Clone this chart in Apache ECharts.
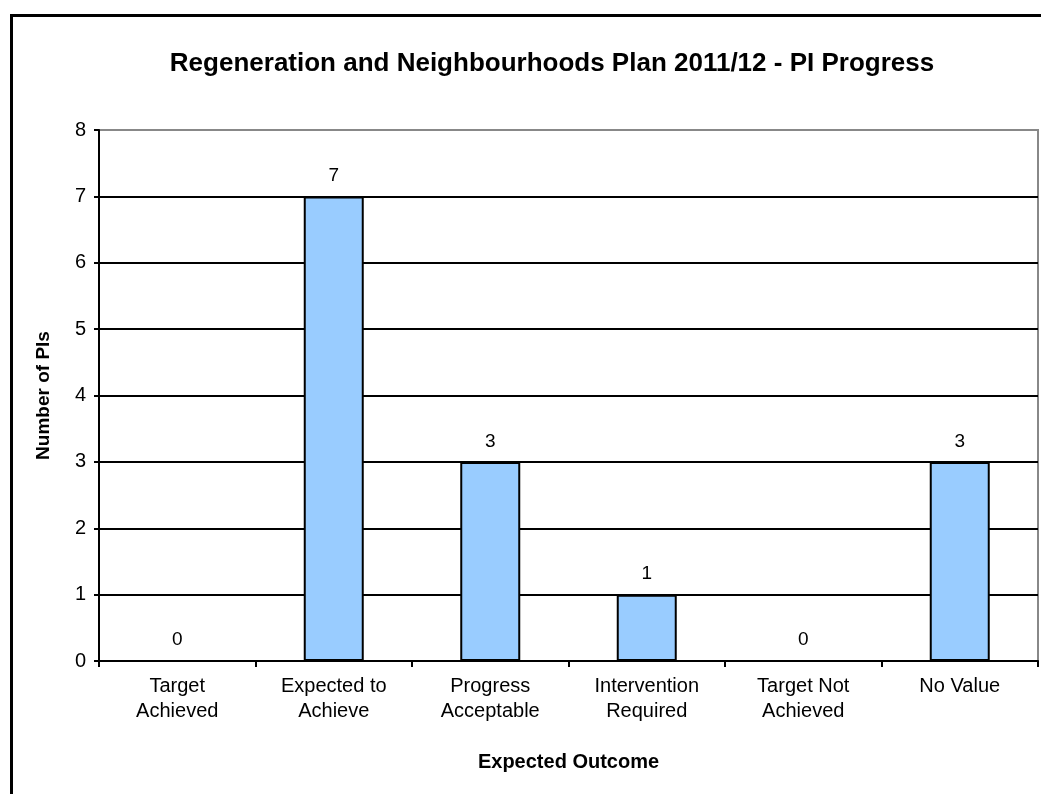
<!DOCTYPE html>
<html>
<head>
<meta charset="utf-8">
<script src="https://cdn.jsdelivr.net/npm/echarts@6/dist/echarts.min.js"></script>
<style>
  html, body { margin: 0; padding: 0; background: #fff; }
  #chart { width: 1041px; height: 794px; }
</style>
</head>
<body>
<div id="chart"></div>
<script>
// Expected outcome categories and PI counts
const categories = [
  'Target\nAchieved',
  'Expected to\nAchieve',
  'Progress\nAcceptable',
  'Intervention\nRequired',
  'Target Not\nAchieved',
  'No Value'
];
const piCounts = [0, 7, 3, 1, 0, 3];

const FONT = '"Liberation Sans", Arial, sans-serif';

const chart = echarts.init(document.getElementById('chart'));
chart.setOption({
  backgroundColor: '#ffffff',
  animation: false,
  graphic: [
    {
      // outer chart frame
      type: 'rect',
      left: 9, top: 13,
      shape: { width: 1100, height: 900 },
      style: { fill: 'none', stroke: '#000', lineWidth: 3 },
      silent: true, z: 0
    }
  ],
  title: {
    text: 'Regeneration and Neighbourhoods Plan 2011/12 - PI Progress',
    left: 547, top: 46, textAlign: 'center',
    textStyle: { fontFamily: FONT, fontSize: 26, fontWeight: 'bold', color: '#000' }
  },
  grid: {
    left: 99, right: 3, top: 130, bottom: 133,
    show: true, borderColor: '#888', borderWidth: 2, backgroundColor: 'transparent'
  },
  xAxis: {
    type: 'category',
    data: categories,
    boundaryGap: true,
    name: 'Expected Outcome',
    nameLocation: 'middle',
    nameGap: 91,
    nameTextStyle: { fontFamily: FONT, fontSize: 20, fontWeight: 'bold', color: '#000' },
    axisLine: { show: true, lineStyle: { color: '#000', width: 2 } },
    axisTick: { show: true, length: 6, alignWithLabel: false, lineStyle: { color: '#000', width: 2 } },
    axisLabel: { fontFamily: FONT, fontSize: 20, color: '#000', margin: 13, lineHeight: 25, interval: 0 }
  },
  yAxis: {
    type: 'value',
    min: 0, max: 8, interval: 1,
    name: 'Number of PIs',
    nameLocation: 'middle',
    nameGap: 46,
    nameRotate: 90,
    nameTextStyle: { fontFamily: FONT, fontSize: 19, fontWeight: 'bold', color: '#000' },
    axisLine: { show: true, lineStyle: { color: '#000', width: 2 } },
    axisTick: { show: true, length: 5, lineStyle: { color: '#000', width: 2 } },
    axisLabel: { fontFamily: FONT, fontSize: 20, color: '#000', margin: 13 },
    splitLine: { show: true, showMaxLine: false, lineStyle: { color: '#000', width: 2 } }
  },
  series: [{
    type: 'bar',
    data: piCounts,
    barWidth: 60,
    itemStyle: { color: '#99CCFF', borderColor: '#000', borderWidth: 2 },
    label: {
      show: true, position: 'top', distance: 11,
      fontFamily: FONT, fontSize: 19, color: '#000'
    }
  }]
});
</script>
</body>
</html>
